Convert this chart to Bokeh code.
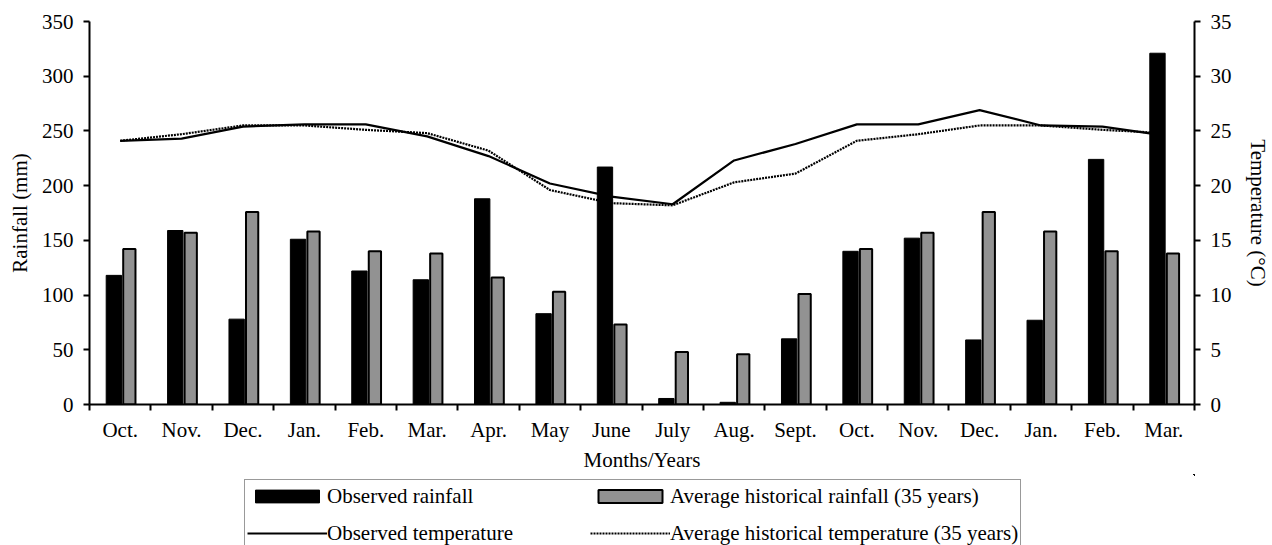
import numpy as np
from bokeh.plotting import figure
from bokeh.layouts import column
from bokeh.models import (Range1d, LinearAxis, FixedTicker, Legend, LegendItem)
from bokeh.embed import file_html
from bokeh.resources import INLINE

# ---- data ----
months = ["Oct.", "Nov.", "Dec.", "Jan.", "Feb.", "Mar.", "Apr.", "May", "June",
          "July", "Aug.", "Sept.", "Oct.", "Nov.", "Dec.", "Jan.", "Feb.", "Mar."]
observed_rainfall = [118, 159, 78, 151, 122, 114, 188, 83, 217, 5.5, 2, 60,
                     140, 152, 59, 77, 224, 321]
historical_rainfall = [142, 157, 176, 158, 140, 138, 116, 103, 73, 48, 46, 101,
                       142, 157, 176, 158, 140, 138]
observed_temperature = [24.1, 24.3, 25.4, 25.6, 25.6, 24.5, 22.7, 20.2, 19.0, 18.3,
                        22.3, 23.8, 25.6, 25.6, 26.9, 25.5, 25.4, 24.6]
historical_temperature = [24.1, 24.7, 25.5, 25.5, 25.1, 24.8, 23.2, 19.6, 18.4, 18.2,
                          20.3, 21.1, 24.1, 24.7, 25.5, 25.5, 25.1, 24.8]
rain_ticks = [0, 50, 100, 150, 200, 250, 300, 350]
temp_ticks = [0, 5, 10, 15, 20, 25, 30, 35]
legend_labels = ["Observed rainfall", "Observed temperature",
                 "Average historical rainfall (35 years)",
                 "Average historical temperature (35 years)"]

FONT = "Liberation Serif"
FS = "21px"

OBS_BAR = dict(fill_color="black", line_color="black", line_width=1)
AVG_BAR = dict(fill_color="#929292", line_color="black", line_width=2)
OBS_LINE = dict(line_color="black", line_width=2.2)
AVG_LINE = dict(line_color="black", line_width=2.2, line_dash="2 1")

n = len(months)
centers = np.arange(n) + 0.5
boundaries = list(range(n + 1))

p = figure(output_backend="svg", toolbar_location=None,
           frame_width=1105, frame_height=383,
           min_border_left=89, min_border_right=78, min_border_top=21,
           min_border_bottom=70,
           x_range=Range1d(0, n), y_range=Range1d(0, 350))
p.outline_line_color = None
p.xgrid.grid_line_color = None
p.ygrid.grid_line_color = None
p.background_fill_color = "white"
p.border_fill_color = "white"

p.extra_y_ranges = {"temp": Range1d(0, 35)}

# bars
r_obs = p.vbar(x=centers - 0.103, top=observed_rainfall, width=0.25, bottom=0, **OBS_BAR)
r_avg = p.vbar(x=centers + 0.149, top=historical_rainfall, width=0.2, bottom=0, **AVG_BAR)

# lines (temperature, right axis)
p.line(x=centers, y=observed_temperature, y_range_name="temp", **OBS_LINE)
p.line(x=centers, y=historical_temperature, y_range_name="temp", **AVG_LINE)

def style_axis(ax):
    ax.axis_line_color = "black"
    ax.axis_line_width = 2
    ax.major_tick_line_color = "black"
    ax.major_tick_line_width = 2
    ax.major_tick_in = 0
    ax.major_tick_out = 6
    ax.minor_tick_line_color = None
    ax.major_label_text_font = FONT
    ax.major_label_text_font_size = FS
    ax.major_label_text_color = "black"
    ax.axis_label_text_font = FONT
    ax.axis_label_text_font_size = FS
    ax.axis_label_text_font_style = "normal"
    ax.axis_label_text_color = "black"

# x axis
xa = p.xaxis[0]
style_axis(xa)
xa.ticker = FixedTicker(ticks=list(centers), minor_ticks=boundaries)
xa.major_label_overrides = {float(c): m for c, m in zip(centers, months)}
xa.major_tick_out = 0
xa.major_tick_line_color = None
xa.minor_tick_line_color = "black"
xa.minor_tick_line_width = 2
xa.minor_tick_in = 0
xa.minor_tick_out = 6
xa.major_label_standoff = 7
xa.axis_label = "Months/Years"
xa.axis_label_standoff = 3

# left y axis
ya = p.yaxis[0]
style_axis(ya)
ya.ticker = FixedTicker(ticks=rain_ticks)
ya.major_label_standoff = 10
ya.axis_label = "Rainfall (mm)"
ya.axis_label_standoff = 7

# right y axis
yr = LinearAxis(y_range_name="temp", axis_label="Temperature (°C)")
style_axis(yr)
yr.ticker = FixedTicker(ticks=temp_ticks)
yr.major_label_standoff = 10
yr.axis_label_standoff = 11
p.add_layout(yr, "right")

# ---- legend strip below the chart (key glyphs use the same series, out of view) ----
lg = figure(output_backend="svg", toolbar_location=None, width=1272, height=71,
            min_border_left=0, min_border_right=0, min_border_top=0,
            min_border_bottom=0, x_axis_location=None, y_axis_location=None,
            x_range=Range1d(-3, -2), y_range=Range1d(-3, -2))
lg.outline_line_color = None
lg.grid.visible = False
lg.background_fill_color = "white"
lg.border_fill_color = "white"

k_obs_bar = lg.vbar(x=centers, top=observed_rainfall, width=0.25, **OBS_BAR)
k_obs_line = lg.line(x=centers, y=observed_temperature, **OBS_LINE)
k_avg_bar = lg.vbar(x=centers, top=historical_rainfall, width=0.2, **AVG_BAR)
k_avg_line = lg.line(x=centers, y=historical_temperature, **AVG_LINE)

legend = Legend(items=[
    LegendItem(label=lab, renderers=[r]) for lab, r in
    zip(legend_labels, [k_obs_bar, k_obs_line, k_avg_bar, k_avg_line])
], orientation="vertical", nrows=2,
   location=(155, -5), margin=0,
   glyph_width=80, glyph_height=16, label_standoff=0,
   label_width=254, label_height=28, spacing=9, padding=2,
   label_text_font=FONT, label_text_font_size=FS, label_text_color="black",
   border_line_color="#333333", border_line_width=1,
   background_fill_color="white", background_fill_alpha=1.0)
lg.add_layout(legend, "center")

layout = column(p, lg, spacing=0)
open("out.html", "w").write(file_html(layout, INLINE))
